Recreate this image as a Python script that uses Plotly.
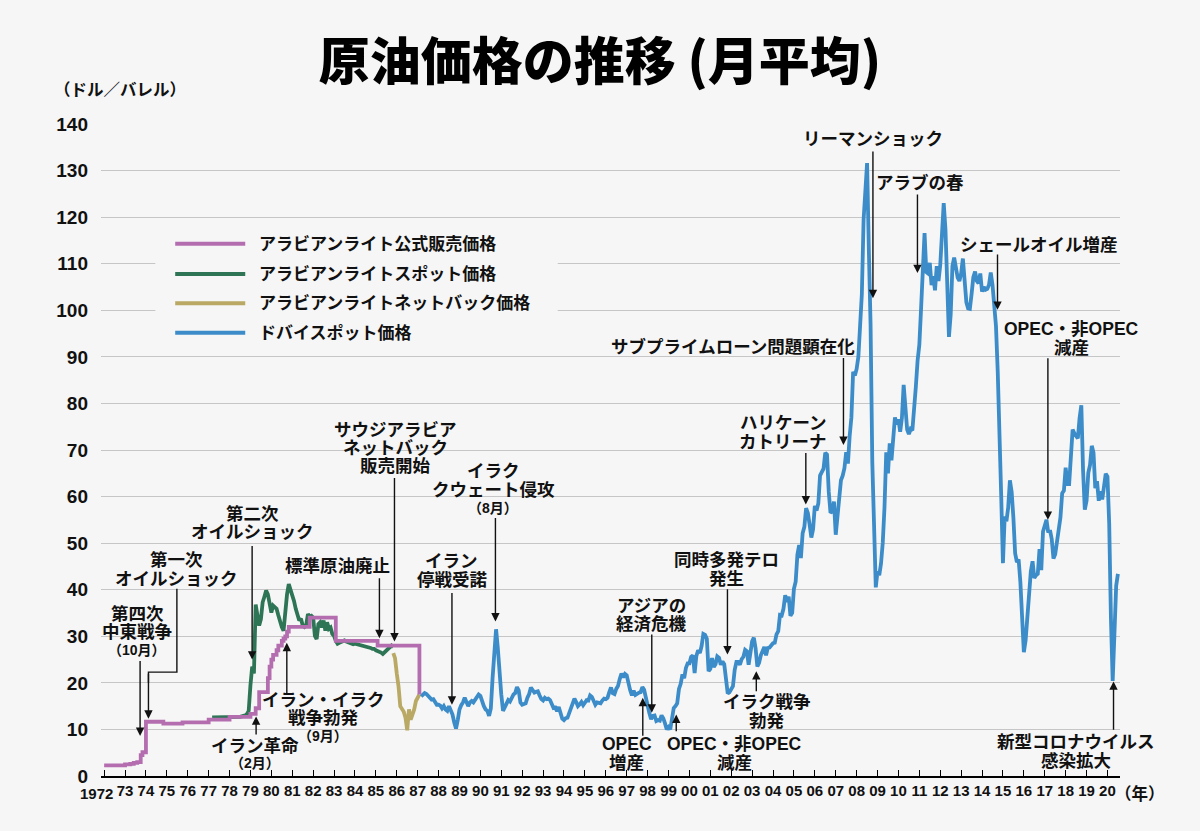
import plotly.graph_objects as go

BG = "#f6f6f6"
FONT = "Liberation Sans, Noto Sans CJK JP"
INK = "#111111"

series_names = ["アラビアンライト公式販売価格", "アラビアンライトスポット価格",
                "アラビアンライトネットバック価格", "ドバイスポット価格"]
series_colors = ["#b46eb0", "#2e7556", "#b9a965", "#3b8cc8"]

# 公式販売価格（改定月と価格, ドル/バレル）
osp_month = ["1972-01", "1973-01", "1973-04", "1973-06", "1973-08", "1973-10", "1973-11",
             "1974-01", "1974-11", "1975-10", "1977-01", "1978-01", "1979-01", "1979-04",
             "1979-06", "1979-11", "1979-12", "1980-01", "1980-02", "1980-04", "1980-05",
             "1980-07", "1980-08", "1980-09", "1980-10", "1980-11", "1981-11", "1983-02",
             "1985-02", "1987-02"]
osp_price = [2.29, 2.5, 2.6, 2.8, 3.0, 4.5, 5.1,
             11.65, 11.25, 11.51, 12.09, 12.70, 13.34, 14.55,
             18.0, 21.0, 23.5, 25.0, 26.0, 27.0, 28.0,
             29.0, 29.5, 30.0, 31.0, 32.0, 34.0, 29.0,
             28.0, 17.52]

# スポット価格（月平均, 1977年3月〜）
spot_start = "1977-03"
spot_price = [
    12.6, 12.6, 12.6, 12.5, 12.5, 12.6, 12.6, 12.6, 12.7, 12.7,                 # 1977
    12.6, 12.5, 12.5, 12.6, 12.6, 12.6, 12.7, 12.8, 12.8, 13.0, 13.3, 14.0,     # 1978
    19.5, 23.5, 22.0, 36.8, 34.5, 32.3, 33.7, 37.3, 38.5, 39.8, 39.0, 36.6,     # 1979
    35.1, 36.6, 36.2, 35.9, 34.5, 33.0, 32.0, 31.2, 36.0, 39.0, 41.2, 40.1,     # 1980
    39.0, 37.6, 35.9, 34.5, 33.4, 33.8, 32.3, 32.0, 32.4, 34.8, 34.2, 34.4,     # 1981
    34.0, 30.1, 29.4, 32.6, 33.0, 31.9, 33.4, 31.2, 33.0, 31.6, 31.9, 30.5,     # 1982
    30.1, 29.0, 28.4, 28.6, 28.7, 29.0, 29.1, 28.9, 28.7, 28.5, 28.4, 28.3,     # 1983
    28.4, 28.3, 28.2, 28.3, 28.1, 28.0, 27.8, 27.7, 27.6, 27.5, 27.3, 27.3,     # 1984
    27.0, 26.9, 26.7, 26.5, 26.2, 26.6, 26.9, 27.2, 27.6, 28.0, 27.7,           # 1985
]

# ネットバック価格（1985年11月〜）
netback_start = "1985-11"
netback_price = [26.4, 25.3,
                 22.0, 19.3, 15.0, 14.3, 13.8, 12.5, 9.8, 14.3, 12.1, 13.2, 14.3, 16.1,
                 16.8, 17.5]

# ドバイスポット価格（1987年3月〜2020年7月）
dubai_start = "1987-03"
dubai_price = [
    17.1, 17.5, 17.8, 17.6, 17.2, 16.8, 16.4, 16.5, 15.9, 15.3,                 # 1987
    15.3, 15.1, 14.5, 15.0, 14.3, 14.0, 15.0, 14.0, 13.2, 11.5, 10.2, 12.0,     # 1988
    14.3, 15.2, 15.8, 16.8, 16.0, 15.0, 15.8, 16.1, 15.8, 16.3, 16.8, 17.5,     # 1989
    17.2, 16.0, 15.0, 14.3, 14.0, 12.9, 14.5, 21.0, 28.0, 31.5, 27.5, 21.5,     # 1990
    17.5, 14.0, 14.8, 15.8, 16.3, 16.0, 17.0, 17.5, 17.8, 19.1, 18.4, 15.8,     # 1991
    15.3, 15.4, 15.6, 16.8, 17.6, 19.0, 18.3, 17.9, 18.1, 18.2, 17.3, 16.5,     # 1992
    16.2, 16.8, 16.5, 16.6, 16.3, 15.3, 14.6, 14.7, 13.9, 14.8, 13.4, 12.3,     # 1993
    12.0, 12.4, 12.5, 13.6, 14.9, 15.4, 16.6, 15.9, 15.0, 15.4, 15.9, 15.2,     # 1994
    15.9, 16.3, 16.2, 17.3, 17.0, 16.0, 15.3, 15.8, 15.8, 15.6, 16.2, 16.6,     # 1995
    16.5, 16.8, 18.0, 19.0, 17.8, 17.6, 18.7, 19.3, 20.8, 22.0, 21.2, 21.9,     # 1996
    21.6, 19.8, 18.4, 17.3, 18.3, 17.4, 17.7, 17.9, 18.0, 19.1, 18.5, 16.6,     # 1997
    14.8, 13.5, 12.2, 12.9, 13.0, 11.8, 12.0, 11.9, 13.0, 12.4, 11.3, 10.0,     # 1998
    10.5, 10.0, 12.3, 14.6, 15.0, 15.6, 18.7, 19.8, 21.8, 21.0, 23.2, 24.2,     # 1999
    24.2, 25.6, 25.9, 22.1, 25.8, 27.0, 26.4, 27.9, 30.5, 30.3, 29.5, 22.5,     # 2000
    23.0, 25.3, 23.4, 24.0, 25.7, 25.4, 23.9, 24.6, 24.0, 19.8, 17.7, 18.0,     # 2001
    18.9, 19.3, 22.8, 24.5, 24.5, 23.9, 25.1, 25.6, 27.1, 26.8, 23.9, 26.4,     # 2002
    28.9, 29.7, 27.4, 23.5, 24.3, 25.9, 27.0, 27.7, 25.9, 27.5, 27.6, 28.0,     # 2003
    28.5, 28.6, 30.4, 31.1, 34.6, 34.5, 35.9, 38.8, 37.4, 38.5, 34.4, 35.0,     # 2004
    40.2, 41.7, 47.5, 49.6, 46.8, 52.1, 53.5, 57.5, 56.5, 54.0, 51.2, 53.0,     # 2005
    58.0, 57.0, 58.5, 64.5, 65.5, 66.0, 69.4, 69.0, 61.0, 56.5, 56.8, 58.9,     # 2006
    51.8, 55.8, 58.3, 63.5, 64.5, 66.1, 69.5, 67.1, 73.0, 77.0, 86.8, 86.0,     # 2007
    87.4, 90.0, 96.7, 103.5, 119.5, 127.8, 131.6, 113.3, 97.0, 67.4, 49.8, 40.5,  # 2008
    44.0, 43.1, 45.6, 50.1, 57.7, 69.5, 65.0, 71.4, 67.8, 73.2, 77.0, 75.5,     # 2009
    76.6, 73.9, 76.9, 84.0, 77.4, 74.4, 73.4, 74.5, 74.2, 80.4, 83.6, 89.2,     # 2010
    92.6, 100.4, 108.7, 116.6, 108.2, 107.9, 110.2, 105.4, 107.3, 104.3, 109.5, 106.3,  # 2011
    109.7, 116.2, 123.0, 117.4, 107.9, 94.3, 99.1, 109.5, 111.3, 108.7, 107.0, 106.3,   # 2012
    107.9, 111.1, 105.4, 101.7, 100.4, 100.3, 103.5, 107.1, 108.3, 106.3, 105.8, 107.9, # 2013
    104.0, 105.0, 104.4, 104.6, 105.5, 108.1, 105.5, 101.9, 96.6, 86.9, 76.4, 60.2,     # 2014
    45.7, 55.7, 54.7, 57.6, 63.5, 61.0, 55.4, 47.8, 45.9, 46.5, 41.7, 34.6,     # 2015
    26.6, 29.1, 35.1, 38.8, 43.9, 46.1, 42.5, 43.1, 43.4, 48.7, 44.2, 52.5,     # 2016
    53.7, 55.0, 52.3, 52.8, 50.9, 46.7, 47.6, 50.2, 53.4, 55.5, 60.7, 61.3,     # 2017
    66.2, 62.7, 62.7, 68.3, 74.4, 73.6, 73.1, 72.5, 76.9, 79.6, 65.6, 57.2,     # 2018
    59.1, 65.1, 66.8, 70.9, 69.4, 61.8, 63.3, 59.1, 61.1, 59.4, 62.1, 64.9,     # 2019
    64.3, 54.2, 33.8, 20.4, 30.5, 40.8, 43.4,                                   # 2020
]

years = list(range(1972, 2021))
# 1972 は左にずらして別に書く
year_labels = [""] + ["%02d" % (y % 100) for y in years[1:]]
y_ticks = list(range(0, 141, 10))

# 出来事の注記: (文字の中心x, [(y, 文字, 大きさ)], 矢印(x, 根元y, 先端y))
notes = [
    (1973.58, [(34.7, "第四次", 17.5), (30.9, "中東戦争", 17.5), (27.1, "（10月）", 14)], (1973.72, 25.0, 8.6)),
    (1975.48, [(46.3, "第一次", 17.5), (42.4, "オイルショック", 17.5)], None),
    (1979.08, [(56.2, "第二次", 17.5), (52.3, "オイルショック", 17.5)], (1979.08, 49.7, 25.0)),
    (1983.15, [(45.2, "標準原油廃止", 17.5)], (1985.17, 42.8, 29.6)),
    (1985.92, [(74.4, "サウジアラビア", 17.5), (70.5, "ネットバック", 17.5), (66.6, "販売開始", 17.5)], (1985.89, 64.3, 28.9)),
    (1990.61, [(65.4, "イラク", 17.5), (61.5, "クウェート侵攻", 17.5), (57.6, "（8月）", 14)], (1990.72, 55.7, 33.2)),
    (1988.64, [(46.1, "イラン", 17.5), (42.0, "停戦受諾", 17.5)], (1988.64, 39.6, 15.3)),
    (1982.48, [(16.4, "イラン・イラク", 17.5), (12.4, "戦争勃発", 17.5), (8.5, "（9月）", 14)], (1980.74, 17.5, 28.6)),
    (1979.22, [(6.5, "イラン革命", 17.5), (2.8, "（2月）", 14)], (1979.27, 8.6, 12.8)),
    (1998.2, [(36.6, "アジアの", 17.5), (32.6, "経済危機", 17.5)], (1998.2, 30.7, 13.6)),
    (1997.0, [(6.8, "OPEC", 17.5), (2.8, "増産", 17.5)], (1997.77, 8.3, 16.8)),
    (2002.14, [(6.8, "OPEC・非OPEC", 17.5), (2.8, "減産", 17.5)], (1999.37, 9.3, 13.2)),
    (2001.79, [(46.4, "同時多発テロ", 17.5), (42.4, "発生", 17.5)], (2001.82, 40.4, 26.1)),
    (2003.71, [(15.8, "イラク戦争", 17.5), (11.8, "勃発", 17.5)], (2003.2, 17.9, 22.5)),
    (2004.5, [(75.8, "ハリケーン", 17.5), (71.8, "カトリーナ", 17.5)], (2005.57, 69.7, 58.3)),
    (2002.1, [(92.2, "サブプライムローン問題顕在化", 17.5)], (2007.37, 90.1, 71.1)),
    (2008.79, [(136.7, "リーマンショック", 17.5)], (2008.78, 134.4, 102.6)),
    (2011.04, [(127.3, "アラブの春", 17.5)], (2010.91, 125.2, 108.0)),
    (2016.74, [(114.1, "シェールオイル増産", 17.5)], (2014.74, 112.3, 100.1)),
    (2018.27, [(96.0, "OPEC・非OPEC", 17.5), (92.0, "減産", 17.5)], (2017.15, 90.0, 55.0)),
    (2018.51, [(7.3, "新型コロナウイルス", 17.5), (3.3, "感染拡大", 17.5)], (2020.29, 9.6, 20.3)),
]


def ym(s):
    y, m = s.split("-")
    return int(y) + (int(m) - 1) / 12


def monthly_x(start, n):
    x0 = ym(start)
    return [x0 + i / 12 for i in range(n)]


def arrow(x, y_tail, y_tip):
    return dict(x=x, y=y_tip, ax=x, ay=y_tail, xref="x", yref="y", axref="x", ayref="y",
                text="", showarrow=True, arrowhead=2, arrowsize=1.2, arrowwidth=1.4,
                arrowcolor=INK, standoff=0)


fig = go.Figure()
line_w = 3.8
fig.add_trace(go.Scatter(x=monthly_x(spot_start, len(spot_price)), y=spot_price, mode="lines",
                         name=series_names[1], line=dict(color=series_colors[1], width=line_w)))
fig.add_trace(go.Scatter(x=monthly_x(netback_start, len(netback_price)), y=netback_price, mode="lines",
                         name=series_names[2], line=dict(color=series_colors[2], width=line_w)))
fig.add_trace(go.Scatter(x=monthly_x(dubai_start, len(dubai_price)), y=dubai_price, mode="lines",
                         name=series_names[3], line=dict(color=series_colors[3], width=line_w)))
fig.add_trace(go.Scatter(x=[ym(s) for s in osp_month], y=osp_price, mode="lines",
                         name=series_names[0], line=dict(color=series_colors[0], width=line_w, shape="hv")))

annotations = []
shapes = []
for cx, lines, arr in notes:
    for ty, txt, size in lines:
        annotations.append(dict(x=cx, y=ty, xref="x", yref="y", text=txt, showarrow=False,
                                xanchor="center", yanchor="middle",
                                font=dict(family=FONT, size=size, color=INK, weight="bold")))
    if arr:
        annotations.append(arrow(*arr))

# 第一次オイルショックの折れ線矢印
shapes.append(dict(type="path", xref="x", yref="y",
                   path="M 1975.48,40.2 L 1975.48,22.3 L 1974.12,22.3 L 1974.12,20.0",
                   line=dict(color=INK, width=1.4)))
annotations.append(arrow(1974.12, 22.3, 12.3))

# 凡例
legend_y = [114.3, 107.8, 101.5, 95.2]
shapes.append(dict(type="rect", xref="x", yref="y", x0=1974.45, x1=1993.7, y0=92.2, y1=117.6,
                   fillcolor=BG, line=dict(width=0), layer="above"))
for name, color, ly in zip(series_names, series_colors, legend_y):
    shapes.append(dict(type="line", xref="x", yref="y", x0=1975.4, x1=1978.75, y0=ly, y1=ly,
                       line=dict(color=color, width=4), layer="above"))
    annotations.append(dict(x=1979.3, y=ly, xref="x", yref="y", text=name, showarrow=False,
                            xanchor="left", yanchor="middle",
                            font=dict(family=FONT, size=17, color=INK, weight="bold")))

annotations.append(dict(x=-0.048, y=1.052, xref="paper", yref="paper", text="（ドル／バレル）",
                        showarrow=False, xanchor="left", yanchor="middle",
                        font=dict(family=FONT, size=16.5, color=INK, weight="bold")))
annotations.append(dict(x=1.0196, y=-0.027, xref="paper", yref="paper", text="（年）",
                        showarrow=False, xanchor="center", yanchor="middle",
                        font=dict(family=FONT, size=16.5, color=INK, weight="bold")))
annotations.append(dict(x=-0.0049, y=-0.027, xref="paper", yref="paper", text=str(years[0]),
                        showarrow=False, xanchor="center", yanchor="middle",
                        font=dict(family=FONT, size=15, color=INK, weight="bold")))

fig.update_layout(
    width=1200, height=831,
    margin=dict(l=101, r=80, t=124, b=55),
    paper_bgcolor=BG, plot_bgcolor=BG,
    showlegend=False,
    title=dict(text="原油価格の推移 (月平均)", x=0.5, xref="container", xanchor="center",
               y=1 - 62 / 831, yref="container", yanchor="middle",
               font=dict(family="Noto Sans CJK JP", size=51, color="#000000", weight=900)),
    annotations=annotations,
    shapes=shapes,
)
fig.update_xaxes(range=[1971.85, 2020.6], tickvals=years, ticktext=year_labels, tickangle=0,
                 showgrid=False, zeroline=False, showline=True, linecolor="#000000", linewidth=1.5,
                 ticks="inside", ticklen=6, tickwidth=1.3, tickcolor="#000000",
                 tickfont=dict(family=FONT, size=15, color=INK, weight="bold"))
fig.update_yaxes(range=[0, 140], tickvals=y_ticks, showgrid=True, gridcolor="#c6c6c6", gridwidth=1.3,
                 zeroline=False, ticks="", ticklabelstandoff=12,
                 tickfont=dict(family=FONT, size=19, color=INK, weight="bold"))

fig.write_html("out.html", config={"displayModeBar": False},
               post_script="document.body.style.margin='0';")
